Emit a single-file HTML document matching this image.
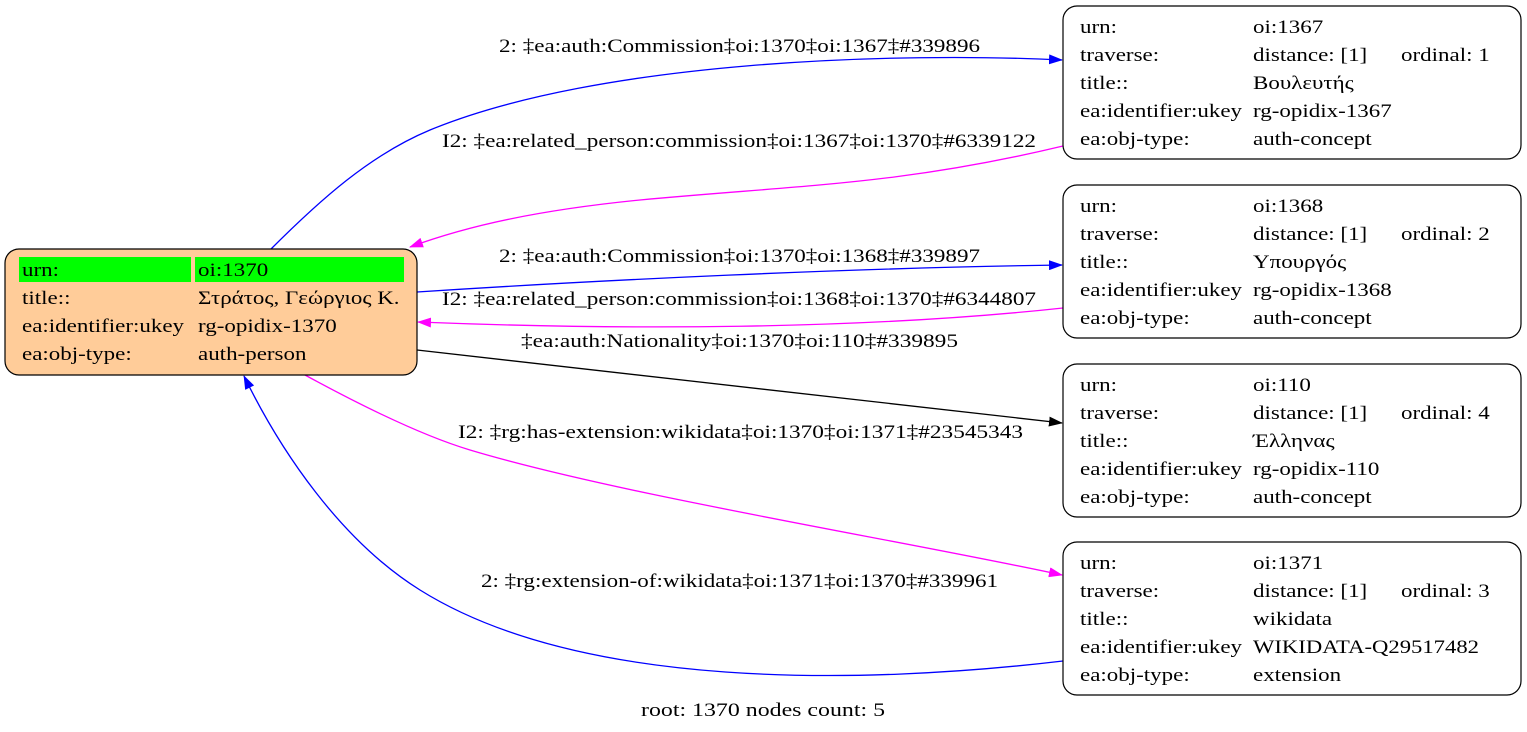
<!DOCTYPE html>
<html><head><meta charset="utf-8"><style>
html,body{margin:0;padding:0;background:#fff;width:1527px;height:732px;overflow:hidden}
svg{display:block}
text{font-family:"Liberation Serif","DejaVu Serif",serif;font-size:19px;fill:#000}
</style></head><body>
<svg width="1527" height="732" viewBox="0 0 1527 732">
<defs>
<marker id="ab" markerWidth="14" markerHeight="10" refX="13" refY="5" orient="auto" markerUnits="userSpaceOnUse"><path d="M0,0 L14,5 L0,10 Z" fill="#00f"/></marker>
<marker id="am" markerWidth="14" markerHeight="10" refX="13" refY="5" orient="auto" markerUnits="userSpaceOnUse"><path d="M0,0 L14,5 L0,10 Z" fill="#f0f"/></marker>
<marker id="ak" markerWidth="14" markerHeight="10" refX="13" refY="5" orient="auto" markerUnits="userSpaceOnUse"><path d="M0,0 L14,5 L0,10 Z" fill="#000"/></marker>
</defs>
<g fill="none" stroke-width="1.3">
<path d="M271,249 C320,200 370,155 430,130 C600,60 900,52 1062,60" stroke="#00f" marker-end="url(#ab)"/>
<path d="M1063,146 C900,185 800,185 640,200 C540,210 470,225 410,247" stroke="#f0f" marker-end="url(#am)"/>
<path d="M417,292 C600,280 850,268 1062,265" stroke="#00f" marker-end="url(#ab)"/>
<path d="M1063,308 C860,330 620,330 418,322" stroke="#f0f" marker-end="url(#am)"/>
<path d="M417,350 L1062,423" stroke="#000" marker-end="url(#ak)"/>
<path d="M305,375 C360,405 420,435 470,450 C620,495 900,540 1062,575" stroke="#f0f" marker-end="url(#am)"/>
<path d="M1063,661 C860,685 580,690 420,590 C340,540 280,450 244,376" stroke="#00f" marker-end="url(#ab)"/>
</g>
<text x="499" y="52" textLength="481" lengthAdjust="spacingAndGlyphs">2: ‡ea:auth:Commission‡oi:1370‡oi:1367‡#339896</text>
<text x="442" y="147" textLength="594" lengthAdjust="spacingAndGlyphs">I2: ‡ea:related_person:commission‡oi:1367‡oi:1370‡#6339122</text>
<text x="499" y="262" textLength="481" lengthAdjust="spacingAndGlyphs">2: ‡ea:auth:Commission‡oi:1370‡oi:1368‡#339897</text>
<text x="442" y="305" textLength="594" lengthAdjust="spacingAndGlyphs">I2: ‡ea:related_person:commission‡oi:1368‡oi:1370‡#6344807</text>
<text x="521" y="347" textLength="437" lengthAdjust="spacingAndGlyphs">‡ea:auth:Nationality‡oi:1370‡oi:110‡#339895</text>
<text x="458" y="438" textLength="565" lengthAdjust="spacingAndGlyphs">I2: ‡rg:has-extension:wikidata‡oi:1370‡oi:1371‡#23545343</text>
<text x="481" y="587" textLength="517" lengthAdjust="spacingAndGlyphs">2: ‡rg:extension-of:wikidata‡oi:1371‡oi:1370‡#339961</text>
<text x="641" y="716" textLength="244" lengthAdjust="spacingAndGlyphs">root: 1370 nodes count: 5</text>

<rect x="5" y="249" width="412" height="126" rx="14" fill="#ffcc99" stroke="#000" stroke-width="1.2"/>
<rect x="19" y="257" width="172" height="25" fill="#0f0"/>
<rect x="195" y="257" width="209" height="25" fill="#0f0"/>
<g transform="translate(22,0) scale(1.21,1)">
<text x="0" y="276">urn:</text><text x="0" y="304">title::</text><text x="0" y="332">ea:identifier:ukey</text><text x="0" y="360">ea:obj-type:</text>
</g>
<g transform="translate(198,0) scale(1.21,1)">
<text x="0" y="276">oi:1370</text><text x="0" y="304">Στράτος, Γεώργιος Κ.</text><text x="0" y="332">rg-opidix-1370</text><text x="0" y="360">auth-person</text>
</g>

<rect x="1063" y="6" width="458" height="153" rx="14" fill="#fff" stroke="#000" stroke-width="1.2"/>
<rect x="1063" y="185" width="458" height="153" rx="14" fill="#fff" stroke="#000" stroke-width="1.2"/>
<rect x="1063" y="364" width="458" height="153" rx="14" fill="#fff" stroke="#000" stroke-width="1.2"/>
<rect x="1063" y="542" width="458" height="153" rx="14" fill="#fff" stroke="#000" stroke-width="1.2"/>

<g transform="translate(1080,0) scale(1.21,1)">
<text x="0" y="33">urn:</text><text x="0" y="61">traverse:</text><text x="0" y="89">title::</text><text x="0" y="117">ea:identifier:ukey</text><text x="0" y="145">ea:obj-type:</text>
<text x="0" y="212">urn:</text><text x="0" y="240">traverse:</text><text x="0" y="268">title::</text><text x="0" y="296">ea:identifier:ukey</text><text x="0" y="324">ea:obj-type:</text>
<text x="0" y="391">urn:</text><text x="0" y="419">traverse:</text><text x="0" y="447">title::</text><text x="0" y="475">ea:identifier:ukey</text><text x="0" y="503">ea:obj-type:</text>
<text x="0" y="569">urn:</text><text x="0" y="597">traverse:</text><text x="0" y="625">title::</text><text x="0" y="653">ea:identifier:ukey</text><text x="0" y="681">ea:obj-type:</text>
</g>
<g transform="translate(1253,0) scale(1.21,1)">
<text x="0" y="33">oi:1367</text><text x="0" y="61">distance: [1]</text><text x="0" y="89">Βουλευτής</text><text x="0" y="117">rg-opidix-1367</text><text x="0" y="145">auth-concept</text>
<text x="0" y="212">oi:1368</text><text x="0" y="240">distance: [1]</text><text x="0" y="268">Υπουργός</text><text x="0" y="296">rg-opidix-1368</text><text x="0" y="324">auth-concept</text>
<text x="0" y="391">oi:110</text><text x="0" y="419">distance: [1]</text><text x="0" y="447">Έλληνας</text><text x="0" y="475">rg-opidix-110</text><text x="0" y="503">auth-concept</text>
<text x="0" y="569">oi:1371</text><text x="0" y="597">distance: [1]</text><text x="0" y="625">wikidata</text><text x="0" y="681">extension</text>
</g>
<text x="1253" y="653" textLength="226" lengthAdjust="spacingAndGlyphs">WIKIDATA-Q29517482</text>
<g transform="translate(1401,0) scale(1.21,1)">
<text x="0" y="61">ordinal: 1</text><text x="0" y="240">ordinal: 2</text><text x="0" y="419">ordinal: 4</text><text x="0" y="597">ordinal: 3</text>
</g>
</svg>
</body></html>
